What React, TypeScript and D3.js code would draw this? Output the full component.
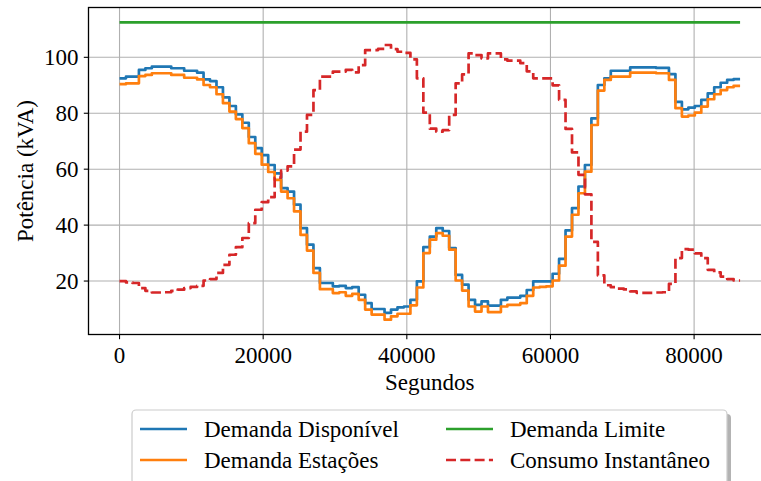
import React, { useEffect, useRef } from "react";
import * as d3 from "d3";

// 15 min sampling over one day (seconds)
const passo = 900;

const demandaDisponivel = [
  92.5, 93.1, 93.1, 95.5, 96.1, 96.7, 96.7, 96.7, 96.1, 96.1, 95.2, 95.2,
  94.5, 92.1, 91.5, 89.3, 85.7, 82.6, 79.6, 76.6, 71.5, 67.5, 65.0, 61.5,
  58.5, 53.2, 52.0, 47.3, 38.9, 33.0, 24.6, 19.3, 19.3, 18.1, 18.3, 17.5,
  17.8, 15.1, 12.1, 10.0, 10.0, 8.6, 9.8, 10.6, 10.9, 13.3, 19.9, 32.1,
  35.9, 38.9, 37.9, 31.8, 22.2, 18.7, 13.3, 11.5, 12.7, 11.2, 11.2, 13.3,
  14.1, 14.1, 14.7, 16.8, 19.9, 19.9, 19.9, 22.6, 27.9, 38.1, 46.1, 53.8,
  61.5, 78.2, 90.1, 92.5, 95.2, 95.2, 95.2, 96.4, 96.4, 96.4, 96.4, 96.2,
  96.2, 94.0, 84.1, 81.4, 82.0, 82.6, 84.8, 87.1, 89.3, 90.9, 91.9, 92.2,
];

const demandaEstacoes = [
  90.4, 90.7, 90.7, 93.3, 93.7, 94.3, 94.3, 94.3, 93.7, 93.7, 92.7, 92.7,
  92.1, 90.1, 89.3, 86.8, 83.6, 80.6, 77.9, 74.7, 69.3, 65.5, 61.6, 59.0,
  56.2, 52.0, 49.6, 44.9, 36.5, 30.9, 22.9, 17.1, 17.1, 15.7, 16.0, 14.7,
  15.4, 13.3, 9.8, 8.0, 8.0, 6.2, 7.4, 8.3, 8.3, 11.3, 17.7, 30.0,
  34.8, 37.1, 36.2, 31.2, 20.2, 16.6, 10.9, 9.1, 10.9, 8.9, 8.9, 10.9,
  11.5, 11.5, 12.1, 14.7, 17.7, 17.9, 18.1, 20.2, 25.5, 35.9, 43.7, 51.4,
  59.1, 75.8, 88.1, 91.9, 93.1, 93.1, 93.1, 94.5, 94.5, 94.5, 94.5, 94.3,
  94.3, 91.9, 81.8, 78.8, 79.2, 80.2, 82.4, 85.0, 86.8, 88.3, 89.3, 89.8,
];

const consumoInstantaneo = [
  20.0, 19.5, 19.3, 17.5, 16.5, 15.9, 15.9, 16.0, 16.5, 16.9, 17.5, 17.9,
  18.3, 20.2, 20.7, 22.9, 25.8, 29.4, 32.1, 35.4, 40.7, 45.5, 48.2, 50.0,
  57.0, 59.5, 61.0, 67.0, 73.4, 79.4, 88.3, 93.1, 93.1, 94.9, 94.9, 95.5,
  94.6, 97.2, 102.6, 102.6, 103.0, 104.4, 102.9, 102.0, 101.6, 99.3, 92.5, 80.2,
  74.5, 73.4, 74.0, 79.4, 90.7, 93.9, 101.4, 100.8, 99.6, 101.4, 101.4, 99.3,
  98.8, 98.8, 97.9, 95.0, 92.5, 92.5, 92.5, 90.0, 84.8, 74.4, 66.0, 58.0,
  51.0, 34.0, 22.0, 18.5, 17.8, 17.3, 17.0, 16.3, 15.8, 15.8, 15.8, 15.9,
  16.0, 19.0, 28.2, 31.4, 31.2, 29.9, 28.2, 24.0, 23.1, 21.6, 20.7, 20.2,
];

const demandaLimite = [112.5, 112.5];

const yTicks = [20, 40, 60, 80, 100];
const xTicks = [0, 20000, 40000, 60000, 80000];

const legenda = [
  { nome: "Demanda Disponível", cor: "#1f77b4", tracejado: false },
  { nome: "Demanda Estações", cor: "#ff7f0e", tracejado: false },
  { nome: "Demanda Limite", cor: "#2ca02c", tracejado: false },
  { nome: "Consumo Instantâneo", cor: "#d62728", tracejado: true },
];

const App = () => {
  const svgRef = useRef(null);

  useEffect(() => {
    const W = 761;
    const H = 481;
    const left = 88.5;
    const top = 7.5;
    const plotW = 682.6;
    const plotH = 327;
    const font = "'Liberation Serif', 'DejaVu Serif', serif";
    const fs = 23;
    const lw = 2.7;

    const svg = d3.select(svgRef.current);
    svg.selectAll("*").remove();
    svg.attr("width", W).attr("height", H);

    // step series -> points (post), closing at the end of the day
    const toSteps = (vals) => {
      const pts = vals.map((v, i) => [i * passo, v]);
      pts.push([vals.length * passo, vals[vals.length - 1]]);
      return pts;
    };
    const fim = demandaDisponivel.length * passo;

    const xPad = fim * 0.05;
    const x = d3
      .scaleLinear()
      .domain([-xPad, fim + xPad])
      .range([left, left + plotW]);

    const all = [
      ...demandaDisponivel,
      ...demandaEstacoes,
      ...consumoInstantaneo,
      ...demandaLimite,
    ];
    const [yMin, yMax] = d3.extent(all);
    const yPad = (yMax - yMin) * 0.05;
    const y = d3
      .scaleLinear()
      .domain([yMin - yPad, yMax + yPad])
      .range([top + plotH, top]);

    svg
      .append("defs")
      .append("clipPath")
      .attr("id", "area")
      .append("rect")
      .attr("x", left)
      .attr("y", top)
      .attr("width", plotW)
      .attr("height", plotH);

    // grid
    const grid = svg.append("g").attr("stroke", "#b0b0b0").attr("stroke-width", 1.1);
    grid
      .selectAll(".gx")
      .data(xTicks)
      .enter()
      .append("line")
      .attr("x1", (d) => x(d))
      .attr("x2", (d) => x(d))
      .attr("y1", top)
      .attr("y2", top + plotH);
    grid
      .selectAll(".gy")
      .data(yTicks)
      .enter()
      .append("line")
      .attr("x1", left)
      .attr("x2", left + plotW)
      .attr("y1", (d) => y(d))
      .attr("y2", (d) => y(d));

    const line = d3
      .line()
      .x((d) => x(d[0]))
      .y((d) => y(d[1]))
      .curve(d3.curveStepAfter);

    const plot = svg.append("g").attr("clip-path", "url(#area)");
    const series = [
      { pts: toSteps(demandaDisponivel), cor: "#1f77b4" },
      { pts: toSteps(demandaEstacoes), cor: "#ff7f0e" },
      { pts: [[0, demandaLimite[0]], [fim, demandaLimite[1]]], cor: "#2ca02c" },
      { pts: toSteps(consumoInstantaneo), cor: "#d62728", dash: true },
    ];
    series.forEach((s) => {
      plot
        .append("path")
        .attr("d", line(s.pts))
        .attr("fill", "none")
        .attr("stroke", s.cor)
        .attr("stroke-width", lw)
        .attr("stroke-linejoin", "round")
        .attr("stroke-dasharray", s.dash ? "10,4.3" : null);
    });

    // spines
    const spines = svg.append("g").attr("stroke", "black").attr("stroke-width", 1.3).attr("fill", "none");
    spines
      .append("rect")
      .attr("x", left)
      .attr("y", top)
      .attr("width", plotW)
      .attr("height", plotH);

    // ticks and labels
    const ticks = svg.append("g").attr("stroke", "black").attr("stroke-width", 1.1);
    ticks
      .selectAll(".tx")
      .data(xTicks)
      .enter()
      .append("line")
      .attr("x1", (d) => x(d))
      .attr("x2", (d) => x(d))
      .attr("y1", top + plotH)
      .attr("y2", top + plotH + 4.7);
    ticks
      .selectAll(".ty")
      .data(yTicks)
      .enter()
      .append("line")
      .attr("x1", left - 4.7)
      .attr("x2", left)
      .attr("y1", (d) => y(d))
      .attr("y2", (d) => y(d));

    const txt = (sel) =>
      sel.style("font-family", font).style("font-size", `${fs}px`).attr("fill", "black");

    svg
      .selectAll(".lx")
      .data(xTicks)
      .enter()
      .append("text")
      .attr("x", (d) => x(d))
      .attr("y", top + plotH + 28)
      .attr("text-anchor", "middle")
      .call(txt)
      .text((d) => String(d));

    svg
      .selectAll(".ly")
      .data(yTicks)
      .enter()
      .append("text")
      .attr("x", left - 10)
      .attr("y", (d) => y(d))
      .attr("dy", "0.35em")
      .attr("text-anchor", "end")
      .call(txt)
      .text((d) => String(d));

    svg
      .append("text")
      .attr("x", left + plotW / 2)
      .attr("y", 390)
      .attr("text-anchor", "middle")
      .call(txt)
      .text("Segundos");

    svg
      .append("text")
      .attr("transform", `translate(33, ${top + plotH / 2}) rotate(-90)`)
      .attr("text-anchor", "middle")
      .call(txt)
      .text("Potência (kVA)");

    // legend
    const lg = svg.append("g");
    const box = { x: 132, y: 410, w: 595, h: 74 };
    lg.append("rect")
      .attr("x", box.x + 4)
      .attr("y", box.y + 4)
      .attr("width", box.w)
      .attr("height", box.h)
      .attr("rx", 4)
      .attr("fill", "#808080")
      .attr("opacity", 0.6);
    lg.append("rect")
      .attr("x", box.x)
      .attr("y", box.y)
      .attr("width", box.w)
      .attr("height", box.h)
      .attr("rx", 4)
      .attr("fill", "white")
      .attr("stroke", "#cccccc")
      .attr("stroke-width", 1.2);

    const colX = [140, 446];
    const rowY = [429, 460];
    legenda.forEach((item, i) => {
      const cx = colX[Math.floor(i / 2)];
      const cy = rowY[i % 2];
      lg.append("line")
        .attr("x1", cx)
        .attr("x2", cx + 47)
        .attr("y1", cy)
        .attr("y2", cy)
        .attr("stroke", item.cor)
        .attr("stroke-width", lw)
        .attr("stroke-dasharray", item.tracejado ? "10,4.3" : null);
      lg.append("text")
        .attr("x", cx + 64)
        .attr("y", cy)
        .attr("dy", "0.35em")
        .call(txt)
        .text(item.nome);
    });
  }, []);

  return (
    <svg
      ref={svgRef}
      style={{ position: "absolute", left: 0, top: 0, display: "block", background: "white" }}
    ></svg>
  );
};

export default App;
